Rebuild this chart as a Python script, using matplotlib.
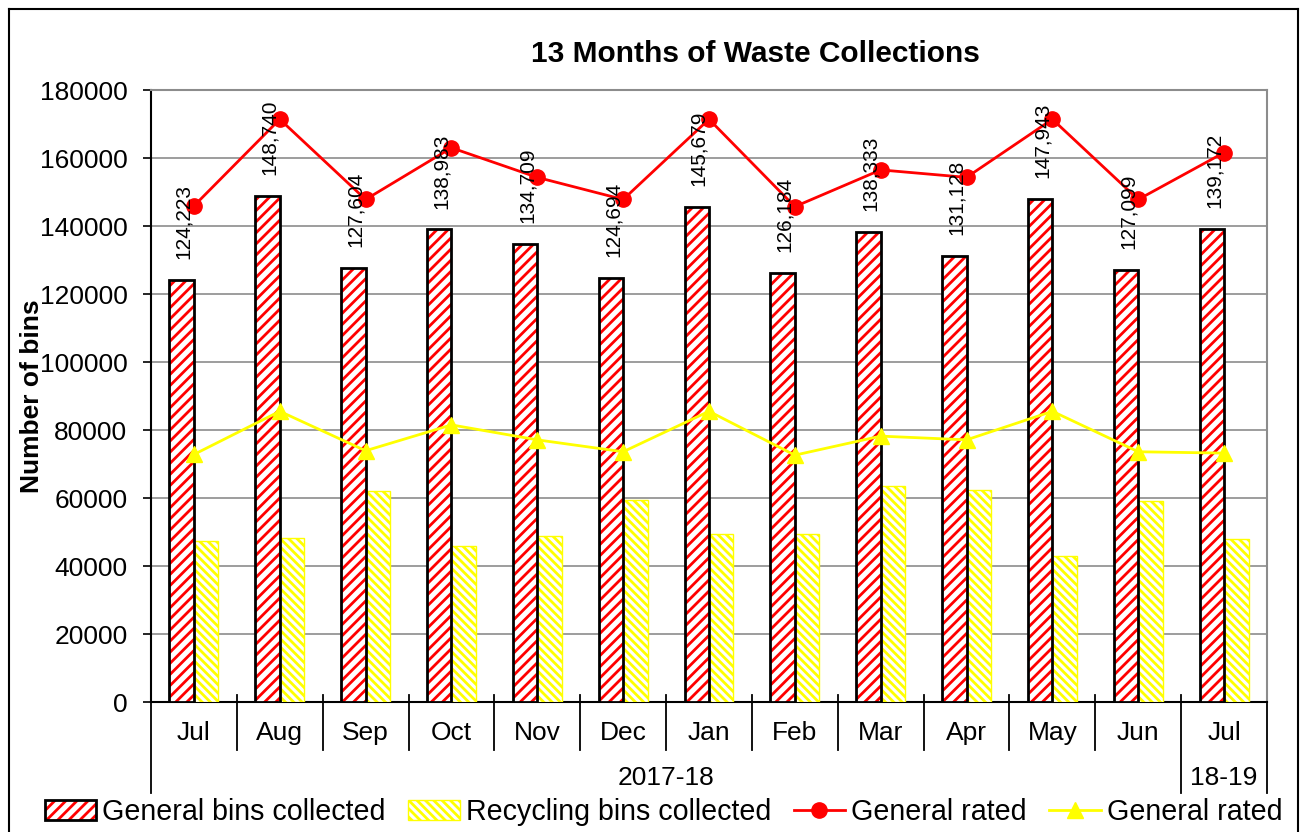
import matplotlib
matplotlib.use('Agg')
import matplotlib.pyplot as plt
from matplotlib.lines import Line2D
from matplotlib.patches import Patch
from matplotlib.transforms import blended_transform_factory
import numpy as np

plt.rcParams['font.family'] = ['Liberation Sans', 'DejaVu Sans']
plt.rcParams['hatch.linewidth'] = 2.0

months = ['Jul', 'Aug', 'Sep', 'Oct', 'Nov', 'Dec', 'Jan',
          'Feb', 'Mar', 'Apr', 'May', 'Jun', 'Jul']
years = ['2017-18', '18-19']
year_spans = [(0, 11), (12, 12)]

general_bins = [124223, 148740, 127604, 138983, 134709, 124694, 145679,
                126184, 138333, 131128, 147943, 127099, 139172]
recycling_bins = [47500, 48200, 62200, 45800, 48700, 59300, 49400,
                  49400, 63400, 62300, 42900, 59100, 47800]
general_rated = [145900, 171400, 147800, 163000, 154300, 147800, 171400,
                 145700, 156500, 154300, 171400, 147800, 161600]
general_rated_2 = [72800, 85500, 73900, 81500, 77100, 73600, 85500,
                   72600, 78200, 77100, 85500, 73600, 73200]

W, H = 1306, 832
fig = plt.figure(figsize=(W / 100, H / 100), dpi=100)
ax = fig.add_axes([151 / W, 130 / H, 1116 / W, 612 / H])

x = np.arange(len(months))
bw = 0.285
red_hatch = '///'
yellow_hatch = '\\\\\\\\'

# general bins: red hatch with a separate black outline
ax.bar(x - bw / 2, general_bins, bw, color='white', edgecolor='red',
       hatch=red_hatch, linewidth=0, zorder=3)
ax.bar(x - bw / 2, general_bins, bw, fill=False, edgecolor='black',
       linewidth=2, zorder=4)
ax.bar(x + bw / 2, recycling_bins, bw, color='white', edgecolor='yellow',
       hatch=yellow_hatch, linewidth=1, zorder=3)

ax.plot(x, general_rated, color='red', lw=2, marker='o', ms=11, zorder=5)
ax.plot(x, general_rated_2, color='yellow', lw=2, marker='^', ms=11,
        zorder=5)

for xi, v in zip(x, general_bins):
    ax.annotate('{:,}'.format(v), (xi - bw / 2, v), xytext=(1.5, 15),
                textcoords='offset points', rotation=90, ha='center',
                va='bottom', fontsize=15, zorder=6)

ax.set_xlim(-0.5, len(months) - 0.5)
ax.set_ylim(0, 180000)
ax.set_yticks(np.arange(0, 180001, 20000))
ax.tick_params(axis='y', labelsize=19, length=6, width=1.2, pad=11)
ax.set_xticks([])
ax.yaxis.grid(True, color='#8c8c8c', lw=1.2, zorder=0)
ax.set_axisbelow(True)
for side in ['top', 'right']:
    ax.spines[side].set_color('#8c8c8c')
    ax.spines[side].set_linewidth(1.5)
for side in ['left', 'bottom']:
    ax.spines[side].set_linewidth(1.5)
ax.set_ylabel('Number of bins', fontsize=19, fontweight='bold', labelpad=-3)

# two-level category axis
trans = blended_transform_factory(ax.transData, ax.transAxes)
for xi, m in zip(x, months):
    ax.text(xi, -0.051, m, transform=trans, ha='center', va='center',
            fontsize=19, clip_on=False)
starts = [s for s, e in year_spans]
for b in np.arange(len(months) + 1) - 0.5:
    low = -0.149 if (b + 0.5) in starts or b == len(months) - 0.5 else -0.078
    ax.add_line(Line2D([b, b], [0.012, low], transform=trans, color='black',
                       lw=1.3, clip_on=False))
for label, (s, e) in zip(years, year_spans):
    ax.text((s + e) / 2, -0.124, label, transform=trans, ha='center',
            va='center', fontsize=19, clip_on=False)

ax.set_title('13 Months of Waste Collections', fontsize=21.5,
             fontweight='bold', pad=20, x=0.542)

handles = [
    (Patch(facecolor='white', edgecolor='red', hatch=red_hatch, lw=0),
     Patch(fill=False, edgecolor='black', lw=2)),
    Patch(facecolor='white', edgecolor='yellow', hatch=yellow_hatch, lw=1),
    Line2D([], [], color='red', lw=2, marker='o', ms=11),
    Line2D([], [], color='yellow', lw=2, marker='^', ms=11),
]
labels = ['General bins collected', 'Recycling bins collected',
          'General rated', 'General rated']
fig.legend(handles, labels, loc='center', bbox_to_anchor=(0.508, 0.024),
           ncol=4, frameon=False, fontsize=20.6, handlelength=1.8,
           handletextpad=0.2, columnspacing=0.8)

# frame round the chart
x0, x1, yt = 9 / W, 1298 / W, 1 - 9 / H
for xs, ys in [([x0, x0], [0, yt]), ([x0, x1], [yt, yt]), ([x1, x1], [0, yt])]:
    fig.add_artist(Line2D(xs, ys, transform=fig.transFigure, color='black',
                          lw=1.5))

fig.savefig('out.png', dpi=100)
